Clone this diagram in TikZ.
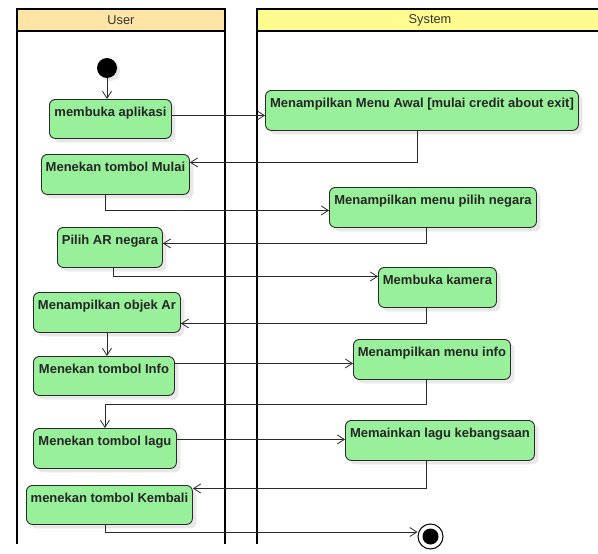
\documentclass[tikz,border=0pt]{standalone}
\usepackage{fontspec}
\setmainfont{Liberation Sans}
\usetikzlibrary{arrows.meta,shadows}
\definecolor{actfill}{HTML}{98F09A}
\definecolor{userhead}{HTML}{FFE5A5}
\definecolor{syshead}{HTML}{FFFB8F}
\definecolor{edgecol}{HTML}{2A2A2A}
\newcommand{\actnode}[6]{%
  \pgfmathsetmacro\actbw{#4-#2}%
  \pgfmathsetmacro\actbd{#5-#3-17.5}%
  \node[actbox, minimum width=\actbw pt, text depth=\actbd pt, anchor=north west] (#1) at (#2,#3) {#6};}
\begin{document}
\begin{tikzpicture}[x=1pt,y=-1pt,
  lane/.style={draw=black, line width=1.8pt},
  headtext/.style={font=\fontsize{12.8}{14}\selectfont, text=black!80},
  actbox/.style={draw=edgecol, fill=actfill, rounded corners=6pt, line width=0.9pt,
    inner ysep=0pt, inner xsep=1pt, text height=17.5pt,
    font=\bfseries\fontsize{13}{15}\selectfont, text=black!85,
    drop shadow={shadow xshift=4pt, shadow yshift=-4pt, fill=black!9, opacity=1}},
  arr/.style={draw=edgecol, line width=0.8pt, -{Straight Barb[length=7pt,width=9pt]}}
]
\useasboundingbox (0,0) rectangle (598,554);
\fill[white] (0,0) rectangle (598,554);
\begin{scope}
\clip (0,0) rectangle (598,554);
% swimlanes
\draw[lane, fill=userhead] (17,9) rectangle (225,31);
\draw[lane] (17,31) -- (17,544);
\draw[lane] (225,31) -- (225,544);
\draw[lane, fill=syshead] (257,9) rectangle (610,31);
\draw[lane] (257,31) -- (257,544);
\end{scope}
\node[headtext] (userlbl) at (121,20) {User};
\node[headtext] (syslbl) at (430,20) {System};
% start / end
\node[circle, fill=black, minimum size=20pt, inner sep=0pt,
  drop shadow={shadow xshift=3pt, shadow yshift=-3pt, fill=black!9, opacity=1}] (start) at (107,68) {};
\node[circle, draw=black, line width=1pt, fill=white, minimum size=25pt, inner sep=0pt] (endn) at (430.5,536.5) {};
\node[circle, fill=black, minimum size=16pt, inner sep=0pt] (endin) at (endn.center) {};
% activities
\actnode{n1}{49}{99}{171}{138}{membuka aplikasi}
\actnode{n2}{265}{90}{578}{130}{Menampilkan Menu Awal [mulai credit about exit]}
\actnode{n3}{41}{154}{189}{194}{Menekan tombol Mulai}
\actnode{n4}{329}{187}{536}{227}{Menampilkan menu pilih negara}
\actnode{n5}{57}{227}{162}{267}{Pilih AR negara}
\actnode{n6}{378}{267}{496}{307}{Membuka kamera}
\actnode{n7}{33}{292}{180}{332}{Menampilkan objek Ar}
\actnode{n8}{33}{356}{174}{395}{Menekan tombol Info}
\actnode{n9}{353}{339}{510}{379}{Menampilkan menu info}
\actnode{n10}{33}{428}{176}{468}{Menekan tombol lagu}
\actnode{n11}{345}{420}{534}{460}{Memainkan lagu kebangsaan}
\actnode{n12}{26}{485}{192}{524}{menekan tombol Kembali}
% flows
\draw[arr] (start) -- (start |- n1.north);
\draw[arr] ([yshift=3.5pt]n1.east) -- ([yshift=-5pt]n2.west);
\draw[arr] ([xshift=-4.5pt]n2.south) |- ([yshift=12pt]n3.east);
\draw[arr] ([xshift=-10pt]n3.south) |- ([yshift=-3pt]n4.west);
\draw[arr] ([xshift=-6.5pt]n4.south) |- ([yshift=4pt]n5.east);
\draw[arr] ([xshift=3.5pt]n5.south) |- ([yshift=11pt]n6.west);
\draw[arr] ([xshift=-11pt]n6.south) |- ([yshift=-11pt]n7.east);
\draw[arr] (n7.south) -- (n7.south |- n8.north);
\draw[arr] ([yshift=12.5pt]n8.east) -- ([yshift=-4pt]n9.west);
\draw[arr] ([xshift=-5.5pt]n9.south) -- ++(0,24) -| (n10.north);
\draw[arr] ([yshift=9pt]n10.east) -- ([yshift=1pt]n11.west);
\draw[arr] ([xshift=-13.5pt]n11.south) |- ([yshift=16.5pt]n12.east);
\draw[arr] ([xshift=-4pt]n12.south) |- ([yshift=4.5pt]endn.west);
\end{tikzpicture}
\end{document}
